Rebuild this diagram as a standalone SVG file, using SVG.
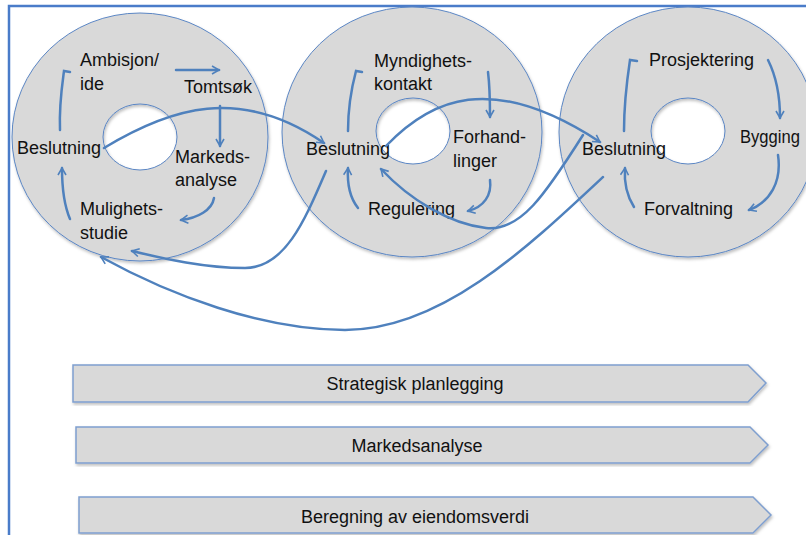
<svg xmlns="http://www.w3.org/2000/svg" width="806" height="535" viewBox="0 0 806 535">
<style>
.ring{fill:#d9d9d9;stroke:#5b86c4;stroke-width:1;fill-rule:evenodd}
.bar{fill:#d9d9d9;stroke:#7f9fcf;stroke-width:1.5}
.t{font-family:"Liberation Sans",Arial,sans-serif;font-size:18px;fill:#111}
.tc{text-anchor:middle}
.c{fill:none;stroke:#4f81bd;stroke-width:2.5;stroke-linecap:round}
.ca{marker-end:url(#ah)}
</style>
<defs>
<marker id="ah" viewBox="0 0 10 10" refX="8" refY="5" markerWidth="4" markerHeight="4" orient="auto" markerUnits="strokeWidth">
<path d="M1,1 L8,5 L1,9" fill="none" stroke="#4f81bd" stroke-width="1.6" stroke-linejoin="miter"/>
</marker>
<filter id="sh" x="-5%" y="-5%" width="110%" height="115%">
<feDropShadow dx="1" dy="2" stdDeviation="1.5" flood-color="#000" flood-opacity="0.25"/>
</filter>
</defs>
<rect width="806" height="535" fill="#fff"/>
<path d="M9,535 V6 H806" fill="none" stroke="#4a7cc9" stroke-width="2.5"/>

<g id="ring1">
<path class="ring" filter="url(#sh)" d="M12,137 a128,124 0 1,0 256,0 a128,124 0 1,0 -256,0 Z M103,137 a37,33 0 1,0 74,0 a37,33 0 1,0 -74,0 Z"/>
<text class="t" x="80" y="66">Ambisjon/</text>
<text class="t" x="80" y="90">ide</text>
<text class="t" x="184" y="93">Tomtsøk</text>
<text class="t" x="17" y="154">Beslutning</text>
<text class="t" x="175" y="163">Markeds-</text>
<text class="t" x="175" y="186">analyse</text>
<text class="t" x="80" y="215">Mulighets-</text>
<text class="t" x="80" y="239">studie</text>
</g>

<g id="ring2">
<path class="ring" filter="url(#sh)" d="M282,132 a130,125 0 1,0 260,0 a130,125 0 1,0 -260,0 Z M376,131 a37,33 0 1,0 74,0 a37,33 0 1,0 -74,0 Z"/>
<text class="t" x="374" y="67">Myndighets-</text>
<text class="t" x="374" y="90">kontakt</text>
<text class="t" x="306" y="155">Beslutning</text>
<text class="t" x="453" y="143">Forhand-</text>
<text class="t" x="453" y="167">linger</text>
<text class="t" x="368" y="215">Regulering</text>
</g>

<g id="ring3">
<path class="ring" filter="url(#sh)" d="M559,132 a129,125 0 1,0 258,0 a129,125 0 1,0 -258,0 Z M651,131 a37,33 0 1,0 74,0 a37,33 0 1,0 -74,0 Z"/>
<text class="t" x="740" y="143" textLength="60" lengthAdjust="spacingAndGlyphs">Bygging</text>
<text class="t" x="649" y="66">Prosjektering</text>
<text class="t" x="582" y="155">Beslutning</text>
<text class="t" x="644" y="215">Forvaltning</text>
</g>

<g id="bar1">
<polygon class="bar" filter="url(#sh)" points="73,365 748,365 766,383 748,402 73,402"/>
<text class="t tc" x="415" y="390">Strategisk planlegging</text>
</g>
<g id="bar2">
<polygon class="bar" filter="url(#sh)" points="76,427 750,427 768,445 750,463 76,463"/>
<text class="t tc" x="417" y="452">Markedsanalyse</text>
</g>
<g id="bar3">
<polygon class="bar" filter="url(#sh)" points="79,497 753,497 771,515 753,533 79,533"/>
<text class="t tc" x="415" y="523">Beregning av eiendomsverdi</text>
</g>

<g id="connectors">
<path class="c" d="M60,130 C59,105 62,86 64,71 L70,72"/>
<path class="c ca" d="M176,70 L219,70"/>
<path class="c ca" d="M220,106 L220,146"/>
<path class="c ca" d="M214,198 C212,210 198,218 181,220"/>
<path class="c ca" d="M70,219 C64,205 62,188 62,168"/>
<path class="c" d="M348,131 C348,105 352,86 356,71 L362,72"/>
<path class="c ca" d="M488,72 C490,88 490,102 490,117"/>
<path class="c ca" d="M490,180 C492,195 484,207 468,211"/>
<path class="c ca" d="M358,208 C350,198 347,185 348,168"/>
<path class="c" d="M624,131 C624,105 627,80 630,60 L637,61"/>
<path class="c ca" d="M768,60 C776,76 780,95 780,118"/>
<path class="c ca" d="M778,155 C782,182 770,202 749,210"/>
<path class="c ca" d="M634,207 C627,196 624,182 625,168"/>
<path class="c ca" d="M104,148 C170,108 240,85 324,143"/>
<path class="c ca" d="M386,146 C430,100 490,70 600,142"/>
<path class="c ca" d="M583,135 C545,195 520,232 486,228 C450,224 410,200 381,169"/>
<path class="c ca" d="M326,171 C305,220 285,268 245,268 C205,268 165,259 132,251"/>
<path class="c ca" d="M603,177 C525,250 440,330 345,330 C262,330 170,295 101,257"/>
</g>
</svg>
